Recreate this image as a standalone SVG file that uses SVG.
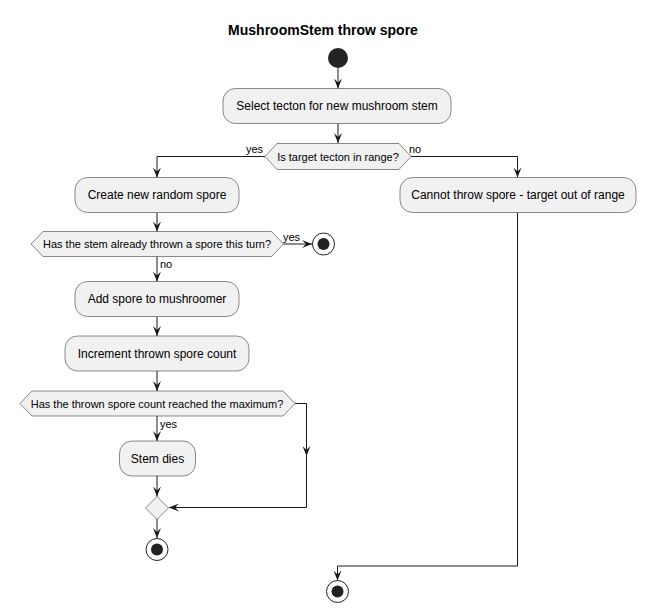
<svg xmlns="http://www.w3.org/2000/svg" width="646" height="613" viewBox="0 0 646 613">
<style>
.box{fill:#F1F1F1;stroke:#181818;stroke-width:0.5}
.dia{fill:#F1F1F1;stroke:#181818;stroke-width:0.5}
.t{font-family:"Liberation Sans",Arial,sans-serif;font-size:12px;fill:#000}
.d{font-family:"Liberation Sans",Arial,sans-serif;font-size:11px;fill:#000}
.l{font-family:"Liberation Sans",Arial,sans-serif;font-size:11px;fill:#000}
.e{fill:none;stroke:#181818;stroke-width:1}
.stopo{fill:#fff;stroke:#222;stroke-width:1}
.stopi{fill:#222}
</style>
<defs>
<marker id="ah" markerWidth="10" markerHeight="8" refX="10" refY="4" orient="auto" markerUnits="userSpaceOnUse">
<path d="M0,0 L10,4 L0,8 L4,4 Z" fill="#181818"/>
</marker>
</defs>
<text x="323" y="35" text-anchor="middle" font-family="Liberation Sans,Arial,sans-serif" font-size="14" font-weight="bold">MushroomStem throw spore</text>

<g id="connectors">
<path class="e" d="M338,68 V88.5" marker-end="url(#ah)"/>
<path class="e" d="M338,123.5 V143" marker-end="url(#ah)"/>
<path class="e" d="M265,156.5 H157 V177.5" marker-end="url(#ah)"/>
<path class="e" d="M411,156.5 H517.5 V177.5" marker-end="url(#ah)"/>
<path class="e" d="M157,212.5 V231.5" marker-end="url(#ah)"/>
<path class="e" d="M283.5,244 H312" marker-end="url(#ah)"/>
<path class="e" d="M157,256.5 V281.5" marker-end="url(#ah)"/>
<path class="e" d="M157,316.5 V336" marker-end="url(#ah)"/>
<path class="e" d="M157,371 V391" marker-end="url(#ah)"/>
<path class="e" d="M157,415.5 V441" marker-end="url(#ah)"/>
<path class="e" d="M157,476 V496.5" marker-end="url(#ah)"/>
<path class="e" d="M157,519 V538" marker-end="url(#ah)"/>
<path class="e" d="M295,403.5 H306.5 V456" marker-end="url(#ah)"/>
<path class="e" d="M306.5,455 V507.5 H169" marker-end="url(#ah)"/>
<path class="e" d="M517.5,212.5 V566 H337.5 V580.5" marker-end="url(#ah)"/>
<text class="l" x="263" y="153" text-anchor="end">yes</text>
<text class="l" x="409" y="153">no</text>
<text class="l" x="283" y="241">yes</text>
<text class="l" x="160" y="268">no</text>
<text class="l" x="160" y="428">yes</text>
</g>

<g id="start"><circle cx="338" cy="58" r="10" fill="#222"/></g>

<g id="select">
<rect class="box" x="223" y="88.5" width="228" height="35" rx="12.5"/>
<text class="t" x="337" y="110" text-anchor="middle">Select tecton for new mushroom stem</text>
</g>

<g id="inrange">
<polygon class="dia" points="265,156.5 277,143.5 399,143.5 411,156.5 399,169.5 277,169.5"/>
<text class="d" x="338" y="160.5" text-anchor="middle">Is target tecton in range?</text>
</g>

<g id="create">
<rect class="box" x="75" y="177.5" width="164" height="35" rx="12.5"/>
<text class="t" x="157" y="199" text-anchor="middle">Create new random spore</text>
</g>

<g id="already">
<polygon class="dia" points="31,244 43,231.5 271.5,231.5 283.5,244 271.5,256.5 43,256.5"/>
<text class="d" x="157" y="248" text-anchor="middle">Has the stem already thrown a spore this turn?</text>
</g>

<g id="stop1">
<circle class="stopo" cx="323.5" cy="244" r="11"/>
<circle class="stopi" cx="323.5" cy="244" r="6"/>
</g>

<g id="add">
<rect class="box" x="75" y="281.5" width="164" height="35" rx="12.5"/>
<text class="t" x="157" y="303" text-anchor="middle">Add spore to mushroomer</text>
</g>

<g id="increment">
<rect class="box" x="65" y="336" width="184" height="35" rx="12.5"/>
<text class="t" x="157" y="357.5" text-anchor="middle">Increment thrown spore count</text>
</g>

<g id="maximum">
<polygon class="dia" points="20,403.5 32,391 283,391 295,403.5 283,416 32,416"/>
<text class="d" x="157" y="407.5" text-anchor="middle">Has the thrown spore count reached the maximum?</text>
</g>

<g id="dies">
<rect class="box" x="119.5" y="441" width="76" height="35" rx="12.5"/>
<text class="t" x="157.5" y="462.5" text-anchor="middle">Stem dies</text>
</g>

<g id="merge">
<polygon class="dia" points="145.5,508 157,496.5 168.5,508 157,519.5"/>
</g>

<g id="stop2">
<circle class="stopo" cx="157" cy="549.5" r="11"/>
<circle class="stopi" cx="157" cy="549.5" r="6"/>
</g>

<g id="outofrange">
<rect class="box" x="400" y="177.5" width="236" height="35" rx="12.5"/>
<text class="t" x="518" y="199" text-anchor="middle">Cannot throw spore - target out of range</text>
</g>

<g id="stop3">
<circle class="stopo" cx="337.5" cy="591.5" r="11"/>
<circle class="stopi" cx="337.5" cy="591.5" r="6"/>
</g>
</svg>
